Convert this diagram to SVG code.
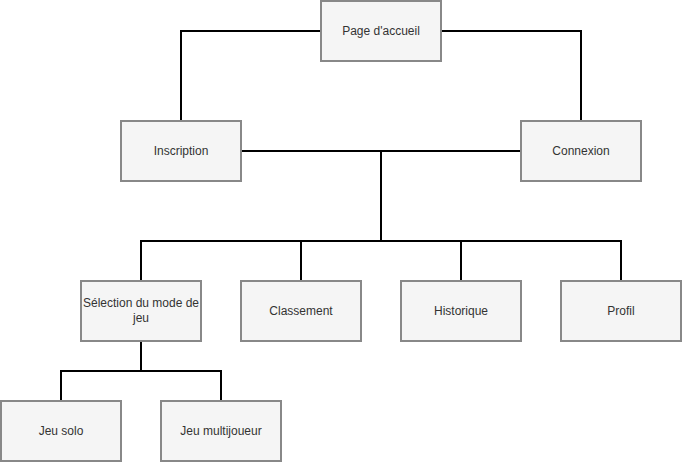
<svg xmlns="http://www.w3.org/2000/svg" width="682" height="462" viewBox="0 0 682 462">
<style>
.box{fill:#f5f5f5;stroke:#888888;stroke-width:2}
.lbl{font-family:"Liberation Sans",Arial,sans-serif;font-size:12px;fill:#333333;text-anchor:middle}
.edge{fill:none;stroke:#000000;stroke-width:2}
</style>
<rect width="682" height="462" fill="#ffffff"/>
<g id="connectors">
<path class="edge" d="M321 31H181V121"/>
<path class="edge" d="M441 31H581V121"/>
<path class="edge" d="M241 151H521"/>
<path class="edge" d="M381 151V241"/>
<path class="edge" d="M141 281V241H621V281"/>
<path class="edge" d="M301 241V281"/>
<path class="edge" d="M461 241V281"/>
<path class="edge" d="M141 341V371"/>
<path class="edge" d="M61 401V371H221V401"/>
</g>
<g id="accueil"><rect class="box" x="321" y="1" width="120" height="60"/><text class="lbl" x="381" y="35">Page d'accueil</text></g>
<g id="inscription"><rect class="box" x="121" y="121" width="120" height="60"/><text class="lbl" x="181" y="155">Inscription</text></g>
<g id="connexion"><rect class="box" x="521" y="121" width="120" height="60"/><text class="lbl" x="581" y="155">Connexion</text></g>
<g id="selection"><rect class="box" x="81" y="281" width="120" height="60"/><text class="lbl" x="141" y="307">Sélection du mode de</text><text class="lbl" x="141" y="322">jeu</text></g>
<g id="classement"><rect class="box" x="241" y="281" width="120" height="60"/><text class="lbl" x="301" y="315">Classement</text></g>
<g id="historique"><rect class="box" x="401" y="281" width="120" height="60"/><text class="lbl" x="461" y="315">Historique</text></g>
<g id="profil"><rect class="box" x="561" y="281" width="120" height="60"/><text class="lbl" x="621" y="315">Profil</text></g>
<g id="solo"><rect class="box" x="1" y="401" width="120" height="60"/><text class="lbl" x="61" y="435">Jeu solo</text></g>
<g id="multi"><rect class="box" x="161" y="401" width="120" height="60"/><text class="lbl" x="221" y="435">Jeu multijoueur</text></g>
</svg>
